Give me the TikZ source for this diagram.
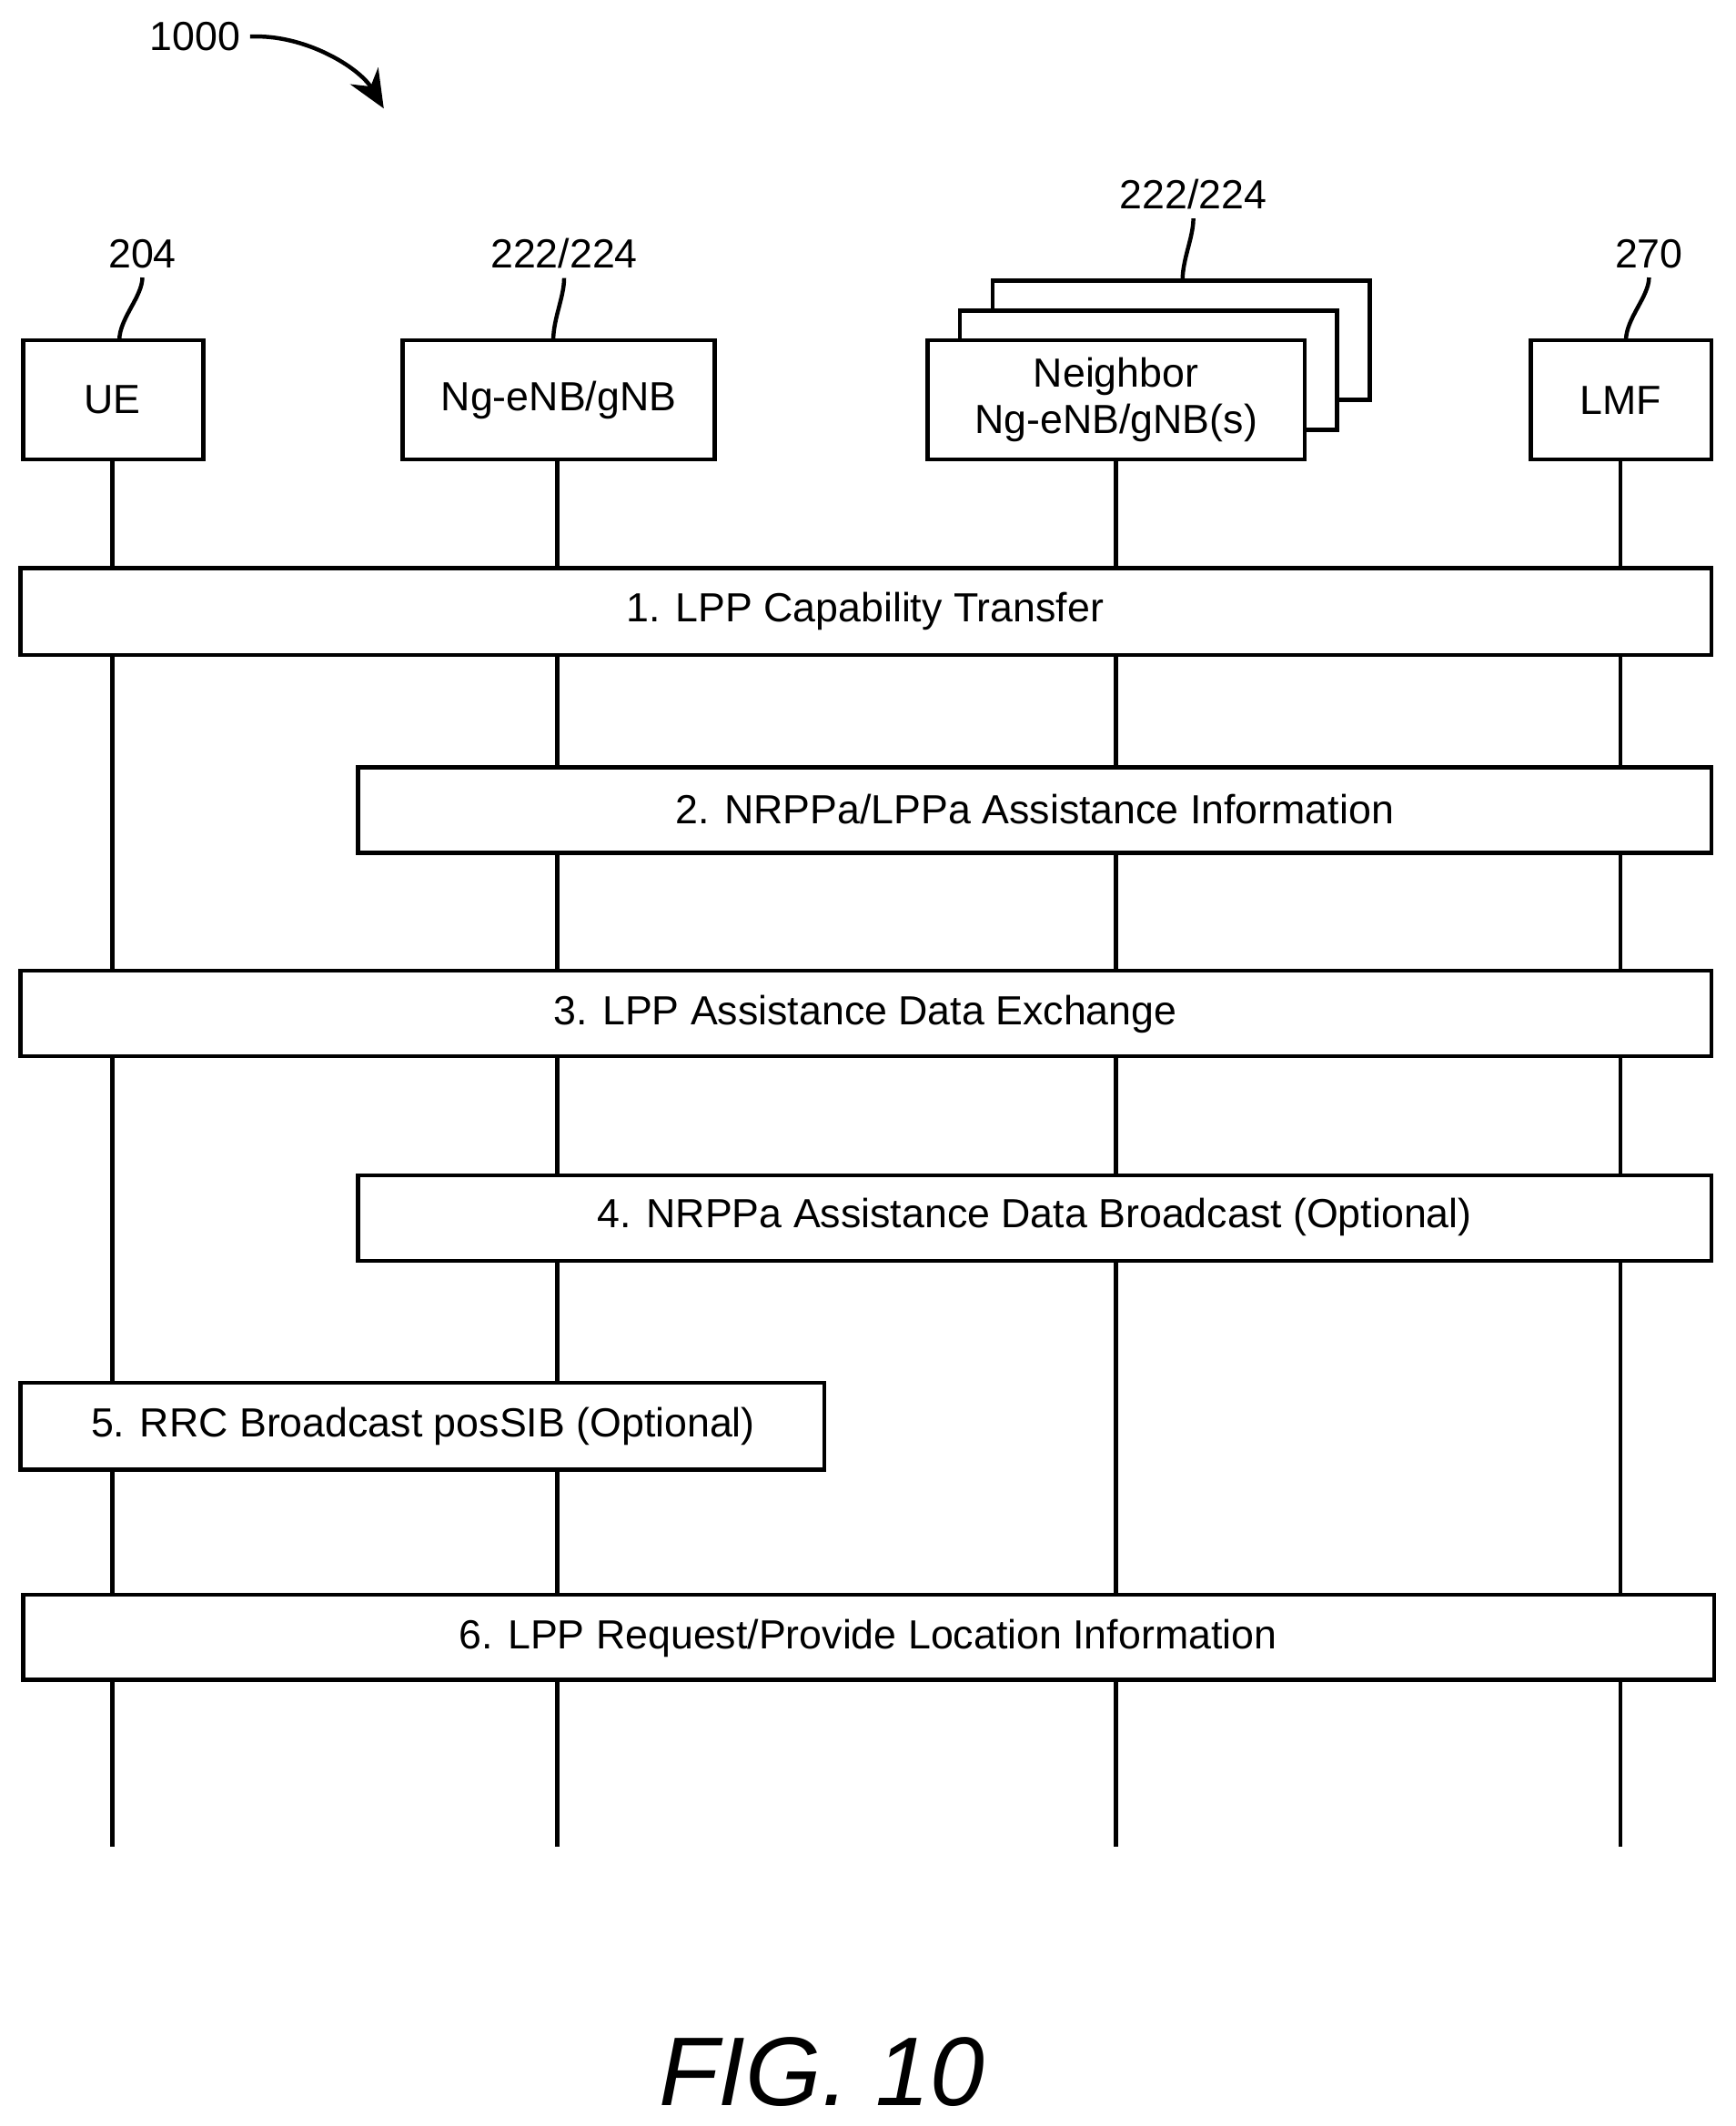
\documentclass[tikz,border=0pt]{standalone}
\usepackage{fontspec}
\setmainfont{Liberation Sans}
\usetikzlibrary{arrows.meta}
\begin{document}
\begin{tikzpicture}[x=0.5pt,y=-0.5pt,
  box/.style={draw,line width=1.5pt,fill=white},
  life/.style={line width=1.5pt},
  txt/.style={font=\fontsize{15}{17}\selectfont},
  lead/.style={line width=1.5pt}]
\useasboundingbox (0,0) rectangle (1280,1568);
% lifelines
\foreach \n/\x in {ue/83,gnb/411,nb/823,lmf/1195}{
  \coordinate (\n t) at (\x,339); \coordinate (\n b) at (\x,1362);
  \draw[life] (\n t) -- (\n b);}
% entity boxes
\draw[box] (17,251) rectangle (150,339); \node[txt] (ue) at (83,295) {UE};
\draw[box] (297,251) rectangle (527,339); \node[txt] (gnb) at (412,295) {Ng-eNB/gNB};
\draw[box] (732,207) rectangle (1010,295);
\draw[box] (708,229) rectangle (986,317);
\draw[box] (684,251) rectangle (962,339);
\node[txt,align=center] (nb) at (823,295) {Neighbor\\Ng-eNB/gNB(s)};
\draw[box] (1129,251) rectangle (1262,339); \node[txt] (lmf) at (1195,295) {LMF};
% reference labels
\node[txt] (l204) at (105,187) {204};
\node[txt] (l222a) at (416,187) {222/224};
\node[txt] (l222b) at (880,143) {222/224};
\node[txt] (l270) at (1216,187) {270};
\coordinate (p1) at (88,251); \coordinate (p2) at (408,251);
\coordinate (p3) at (872,207); \coordinate (p4) at (1199,251);
\draw[lead] (l204.south) .. controls +(0,14) and +(0,-16) .. (p1);
\draw[lead] (l222a.south) .. controls +(0,14) and +(0,-16) .. (p2);
\draw[lead] (l222b.south) .. controls +(0,14) and +(0,-16) .. (p3);
\draw[lead] (l270.south) .. controls +(0,14) and +(0,-16) .. (p4);
% bars
\draw[box] (15,419) rectangle (1262,483); \node[txt] (s1) at (638,451) {1. LPP Capability Transfer};
\draw[box] (264,566) rectangle (1262,629); \node[txt] (s2) at (763,597) {2. NRPPa/LPPa Assistance Information};
\draw[box] (15,716) rectangle (1262,779); \node[txt] (s3) at (638,748) {3. LPP Assistance Data Exchange};
\draw[box] (264,867) rectangle (1262,930); \node[txt] (s4) at (763,898) {4. NRPPa Assistance Data Broadcast (Optional)};
\draw[box] (15,1020) rectangle (608,1084); \node[txt] (s5) at (312,1052) {5. RRC Broadcast posSIB (Optional)};
\draw[box] (17,1176) rectangle (1264,1239); \node[txt] (s6) at (640,1208) {6. LPP Request/Provide Location Information};
% figure number
\node[txt] (l1000) at (144,27) {1000};
\coordinate (a1) at (283,80);
\draw[line width=1.5pt,-{Stealth[length=14pt,width=12pt]}] (l1000.east) .. controls (225,25) and (265,50) .. (a1);
\node[font=\fontsize{36}{40}\selectfont\itshape] (fig) at (606,1528) {FIG. 10};
\end{tikzpicture}
\end{document}
